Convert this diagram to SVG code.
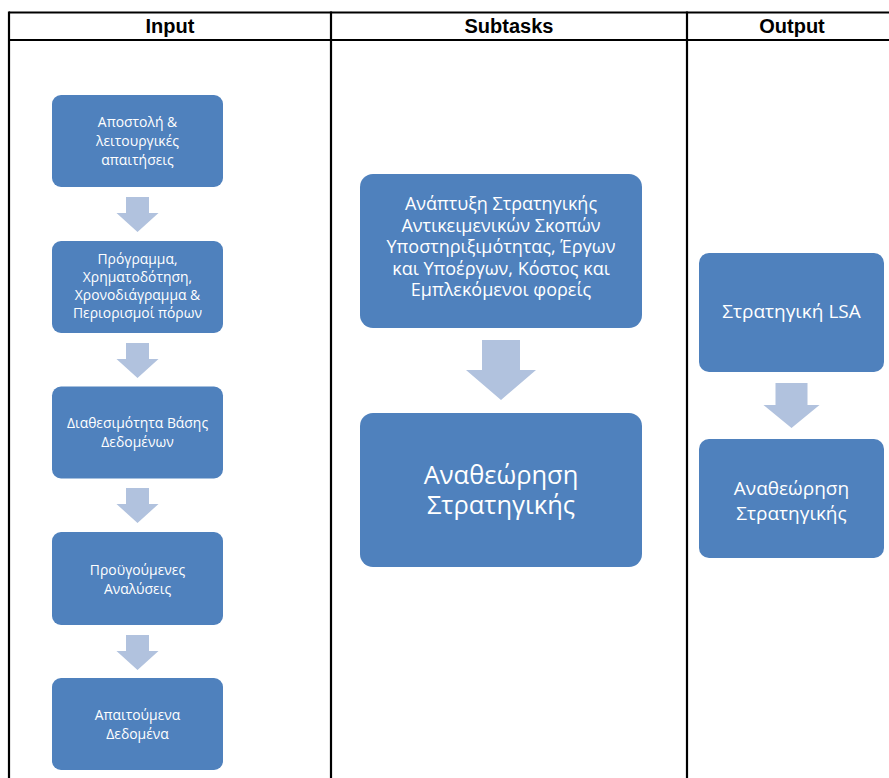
<svg xmlns="http://www.w3.org/2000/svg" width="889" height="778" viewBox="0 0 889 778">
  <style>
    .grid { stroke: #000; stroke-width: 2.2; fill: none; }
    .hdr { font-family: "Liberation Sans", Arial, sans-serif; font-weight: bold; font-size: 20px; fill: #000; text-anchor: middle; }
    .box { fill: #4F81BD; }
    .arrow { fill: #B1C2DE; }
    .lbl { font-family: "Open Sans", "Noto Sans", sans-serif; fill: #fff; text-anchor: middle; }
    .s { font-size: 13.9px; }
    .m { font-size: 18px; }
    .l { font-size: 25.5px; }
    .r { font-size: 19px; }
  </style>
  <defs>
    <path id="arrowS" d="M-11.5,0 H11.5 V16 H21 L0,35 L-21,16 H-11.5 Z"/>
    <path id="arrowM" d="M-19,0 H19 V30 H35 L0,60 L-35,30 H-19 Z"/>
    <path id="arrowR" d="M-16,0 H16 V22 H28 L0,45 L-28,22 H-16 Z"/>
  </defs>
  <rect width="889" height="778" fill="#fff"/>

  <!-- table frame -->
  <g id="table">
    <line class="grid" x1="9" y1="12.5" x2="889" y2="12.5"/>
    <line class="grid" x1="9" y1="40" x2="889" y2="40"/>
    <line class="grid" x1="9" y1="11.5" x2="9" y2="778"/>
    <line class="grid" x1="331" y1="11.5" x2="331" y2="778"/>
    <line class="grid" x1="687" y1="11.5" x2="687" y2="778"/>
    <text class="hdr" x="170" y="33">Input</text>
    <text class="hdr" x="509" y="33">Subtasks</text>
    <text class="hdr" x="792" y="33">Output</text>
  </g>

  <!-- connectors -->
  <g id="connectors">
    <use href="#arrowS" class="arrow" x="137.5" y="197"/>
    <use href="#arrowS" class="arrow" x="137.5" y="343"/>
    <use href="#arrowS" class="arrow" x="137.5" y="488"/>
    <use href="#arrowS" class="arrow" x="137.5" y="635"/>
    <use href="#arrowM" class="arrow" x="501" y="340"/>
    <use href="#arrowR" class="arrow" x="791.5" y="383"/>
  </g>

  <!-- Input column -->
  <g id="in1">
    <rect class="box" x="52" y="95" width="171" height="92" rx="9"/>
    <text class="lbl s"><tspan x="137.5" y="127">Αποστολή &amp;</tspan><tspan x="137.5" y="146">λειτουργικές</tspan><tspan x="137.5" y="165">απαιτήσεις</tspan></text>
  </g>
  <g id="in2">
    <rect class="box" x="52" y="241" width="171" height="92" rx="9"/>
    <text class="lbl s"><tspan x="137.5" y="264">Πρόγραμμα,</tspan><tspan x="137.5" y="282">Χρηματοδότηση,</tspan><tspan x="137.5" y="300">Χρονοδιάγραμμα &amp;</tspan><tspan x="137.5" y="318">Περιορισμοί πόρων</tspan></text>
  </g>
  <g id="in3">
    <rect class="box" x="52" y="386.5" width="171" height="92" rx="9"/>
    <text class="lbl s"><tspan x="137.5" y="428">Διαθεσιμότητα Βάσης</tspan><tspan x="137.5" y="447">Δεδομένων</tspan></text>
  </g>
  <g id="in4">
    <rect class="box" x="52" y="532" width="171" height="93" rx="9"/>
    <text class="lbl s"><tspan x="137.5" y="575">Προϋγούμενες</tspan><tspan x="137.5" y="594">Αναλύσεις</tspan></text>
  </g>
  <g id="in5">
    <rect class="box" x="52" y="678" width="171" height="92" rx="9"/>
    <text class="lbl s"><tspan x="137.5" y="720">Απαιτούμενα</tspan><tspan x="137.5" y="739">Δεδομένα</tspan></text>
  </g>

  <!-- Subtasks column -->
  <g id="sub1">
    <rect class="box" x="360" y="174" width="282" height="154" rx="13"/>
    <text class="lbl m"><tspan x="501" y="210">Ανάπτυξη Στρατηγικής</tspan><tspan x="501" y="231.5">Αντικειμενικών Σκοπών</tspan><tspan x="501" y="253">Υποστηριξιμότητας, Έργων</tspan><tspan x="501" y="274.5">και Υποέργων, Κόστος και</tspan><tspan x="501" y="296">Εμπλεκόμενοι φορείς</tspan></text>
  </g>
  <g id="sub2">
    <rect class="box" x="360" y="413" width="282" height="154" rx="13"/>
    <text class="lbl l"><tspan x="501" y="484">Αναθεώρηση</tspan><tspan x="501" y="514">Στρατηγικής</tspan></text>
  </g>

  <!-- Output column -->
  <g id="out1">
    <rect class="box" x="699" y="253" width="185" height="119" rx="10"/>
    <text class="lbl r" x="791.5" y="318">Στρατηγική LSA</text>
  </g>
  <g id="out2">
    <rect class="box" x="699" y="439" width="185" height="119" rx="10"/>
    <text class="lbl r"><tspan x="791.5" y="495">Αναθεώρηση</tspan><tspan x="791.5" y="520">Στρατηγικής</tspan></text>
  </g>
</svg>
